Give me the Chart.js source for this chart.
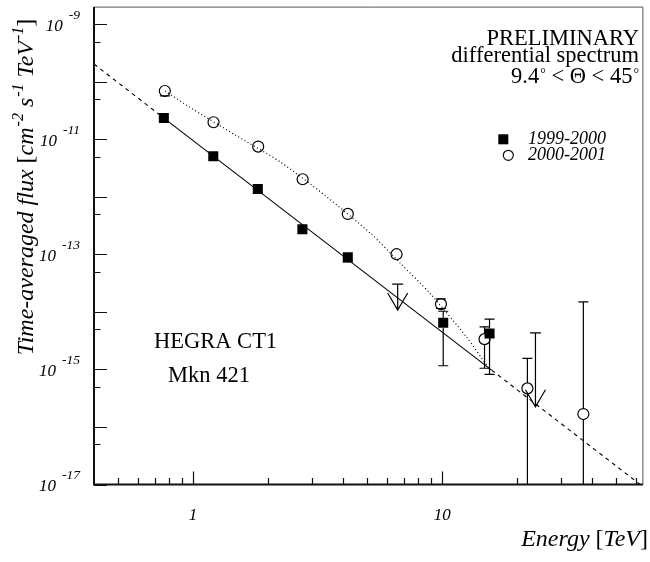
<!DOCTYPE html>
<html><head><meta charset="utf-8">
<script src="https://cdn.jsdelivr.net/npm/chart.js@4/dist/chart.umd.min.js"></script>
<style>html,body{margin:0;padding:0;background:#fff}canvas{display:block}</style>
</head><body>
<canvas id="c" width="650" height="562"></canvas>
<script>
// ---------- data ----------
// 1999-2000 (filled squares)
const energy9900 = [0.763, 1.205, 1.819, 2.747, 4.18, 10.1, 15.5];
const flux9900   = [2.35e-11, 5.09e-12, 1.38e-12, 2.75e-13, 8.95e-14, 6.47e-15, 4.24e-15];
const errLo9900  = [null, null, null, null, 7.43e-14, 1.16e-15, 8.2e-16];
const errHi9900  = [null, null, null, null, null, 1.03e-14, 7.5e-15];
// 1999-2000 upper limits
const ulEnergy9900   = [6.63, 23.7];
const ulFlux9900     = [3.04e-14, 4.33e-15];
const ulArrowEnd9900 = [1.08e-14, 2.25e-16];

// 2000-2001 (open circles)
const energy0001 = [0.77, 1.208, 1.825, 2.753, 4.18, 6.56, 9.89, 14.8, 22.0, 36.9];
const flux0001   = [6.95e-11, 1.99e-11, 7.51e-12, 2.03e-12, 5.07e-13, 1.01e-13, 1.37e-14, 3.37e-15, 4.69e-16, 1.68e-16];
const errLo0001  = [5.73e-11, null, null, null, null, null, 1.15e-14, 1.05e-15, 1e-19, 1e-19];
const errHi0001  = [null, null, null, null, null, null, 1.69e-14, 5.52e-15, 1.56e-15, 1.50e-14];

// power-law fit to 1999-2000 (solid inside fit range, dashed extrapolation)
const fitEnergy = [0.4, 0.763, 15.8, 64];
const fitFlux   = [2.05e-10, 2.35e-11, 9.75e-16, 9.2e-18];
// curved fit to 2000-2001 (dotted)
const curveEnergy0001 = [0.772, 0.967, 1.483, 2.239, 3.377, 5.168, 6.79, 8.92, 12.51, 15.6];
const curveFlux0001   = [6.95e-11, 3.66e-11, 1.18e-11, 4.06e-12, 1.07e-12, 2.31e-13, 7.05e-14, 2.12e-14, 3.70e-15, 9.75e-16];

// axes
const xMin = 0.4, xMax = 64, yMin = 1e-17, yMax = 2e-9;
const xTickValues = [0.5,0.6,0.7,0.8,0.9,1,2,3,4,5,6,7,8,9,10,20,30,40,50,60];
const xMajorValues = [1, 10];
const xLabelValues = [1, 10];
const yMajorExponents = [-17,-16,-15,-14,-13,-12,-11,-10,-9];
const yLabelExponents = [-17,-15,-13,-11,-9];

const FONT = '"Liberation Serif", "DejaVu Serif", serif';

function pts(xs, ys){ return xs.map((x,i)=>({x:x, y:ys[i]})); }

function richWidth(ctx, parts){ let w=0; for(const p of parts){ ctx.font=p.f; w += ctx.measureText(p.t).width + (p.dx||0);} return w; }
function drawRich(ctx, parts, x, y){ for(const p of parts){ ctx.font=p.f; x += (p.dx||0); ctx.fillText(p.t, x, y-(p.r||0)); x += ctx.measureText(p.t).width; } }

const hegraPlugin = {
  id: 'hegra',
  afterDatasetsDraw(chart){
    const ctx = chart.ctx, xs = chart.scales.x, ys = chart.scales.y, a = chart.chartArea;
    const X = v => xs.getPixelForValue(v), Y = v => ys.getPixelForValue(v);
    ctx.save();
    ctx.strokeStyle = '#000'; ctx.fillStyle = '#000';
    // ---- error bars and upper limits (clipped) ----
    ctx.save();
    ctx.beginPath(); ctx.rect(a.left, a.top, a.right-a.left, a.bottom-a.top); ctx.clip();
    ctx.lineWidth = 1.2;
    function errs(E, F, lo, hi, gap){
      for(let i=0;i<E.length;i++){
        const px = X(E[i]), py = Y(F[i]);
        ctx.beginPath();
        if(hi[i]!=null){ const yh=Y(hi[i]); ctx.moveTo(px, py-gap); ctx.lineTo(px, yh); ctx.moveTo(px-5, yh); ctx.lineTo(px+5, yh); }
        if(lo[i]!=null){ const yl=Y(lo[i]); ctx.moveTo(px, py+gap); ctx.lineTo(px, yl); ctx.moveTo(px-5, yl); ctx.lineTo(px+5, yl); }
        ctx.stroke();
      }
    }
    errs(energy9900, flux9900, errLo9900, errHi9900, 5);
    errs(energy0001, flux0001, errLo0001, errHi0001, 5.5);
    for(let i=0;i<ulEnergy9900.length;i++){
      const px = X(ulEnergy9900[i]), yc = Y(ulFlux9900[i]), yt = Y(ulArrowEnd9900[i]);
      ctx.beginPath();
      ctx.moveTo(px-5.5, yc); ctx.lineTo(px+5.5, yc);
      ctx.moveTo(px, yc); ctx.lineTo(px, yt);
      ctx.moveTo(px-10, yt-17); ctx.lineTo(px, yt); ctx.lineTo(px+10, yt-17);
      ctx.stroke();
    }
    ctx.restore();

    // ---- frame ----
    ctx.lineWidth = 1; ctx.strokeStyle = '#555';
    ctx.beginPath(); ctx.moveTo(a.left, a.top); ctx.lineTo(a.right, a.top); ctx.lineTo(a.right, a.bottom); ctx.stroke();
    ctx.lineWidth = 2; ctx.strokeStyle = '#111';
    ctx.beginPath(); ctx.moveTo(a.left, a.top); ctx.lineTo(a.left, a.bottom); ctx.lineTo(a.right, a.bottom); ctx.stroke();

    // ---- ticks ----
    ctx.lineWidth = 1.2; ctx.strokeStyle = '#111';
    ctx.beginPath();
    for(const v of xTickValues){
      const px = Math.round(X(v))+0.5; const L = xMajorValues.includes(v) ? 13 : 6.5;
      ctx.moveTo(px, a.bottom); ctx.lineTo(px, a.bottom-L);
    }
    for(const e of yMajorExponents){
      const py = Math.round(Y(Math.pow(10,e)))+0.5;
      ctx.moveTo(a.left, py); ctx.lineTo(a.left+13, py);
      const pm = Math.round(Y(5*Math.pow(10,e)))+0.5;
      if(pm > a.top){ ctx.moveTo(a.left, pm); ctx.lineTo(a.left+6.5, pm); }
    }
    ctx.stroke();

    // ---- tick labels ----
    ctx.textAlign = 'left'; ctx.textBaseline = 'alphabetic';
    for(const e of yLabelExponents){
      const py = Y(Math.pow(10,e));
      const parts = [{t:'10', f:'italic 17px '+FONT}, {t:String(e), f:'italic 13.5px '+FONT, r:12, dx:6}];
      const w = richWidth(ctx, parts);
      drawRich(ctx, parts, 80 - w, py + 6.5);
    }
    ctx.textAlign = 'center'; ctx.font = 'italic 17px '+FONT;
    for(const v of xLabelValues){ ctx.fillText(String(v), X(v), 520); }

    // ---- axis titles ----
    ctx.textAlign = 'left';
    const xt = [{t:'Energy ', f:'italic 24px '+FONT}, {t:'[', f:'24px '+FONT}, {t:'TeV', f:'italic 24px '+FONT}, {t:']', f:'24px '+FONT}];
    drawRich(ctx, xt, 648 - richWidth(ctx, xt), 546);
    const yt = [{t:'Time-averaged flux ', f:'italic 24px '+FONT}, {t:'[', f:'24px '+FONT}, {t:'cm', f:'italic 24px '+FONT},
      {t:'-2', f:'italic 16px '+FONT, r:10, dx:1}, {t:' s', f:'italic 24px '+FONT}, {t:'-1', f:'italic 16px '+FONT, r:10, dx:1},
      {t:' TeV', f:'italic 24px '+FONT}, {t:'-1', f:'italic 16px '+FONT, r:10, dx:1}, {t:']', f:'24px '+FONT}];
    const yw = richWidth(ctx, yt);
    ctx.save(); ctx.translate(33, 187); ctx.rotate(-Math.PI/2);
    drawRich(ctx, yt, -yw/2, 0);
    ctx.restore();

    // ---- annotations ----
    ctx.textAlign = 'right'; ctx.font = '22.5px '+FONT;
    ctx.fillText('PRELIMINARY', 639, 44.5);
    ctx.fillText('differential spectrum', 639, 61.5);
    ctx.textAlign = 'left';
    const th = [{t:'9.4', f:'22.5px '+FONT}, {t:'\u00B0', f:'14px '+FONT, r:5, dx:1}, {t:' < \u0398 < 45', f:'22.5px '+FONT},
      {t:'\u00B0', f:'14px '+FONT, r:5, dx:1}];
    drawRich(ctx, th, 639 - richWidth(ctx, th), 83);
    ctx.font = '22.5px '+FONT;
    ctx.fillText('HEGRA CT1', 154, 348);
    ctx.fillText('Mkn 421', 168, 381.5);

    // ---- legend ----
    ctx.fillStyle = '#000';
    ctx.fillRect(503.3-5, 139.3-5, 10, 10);
    ctx.lineWidth = 1.2; ctx.beginPath(); ctx.arc(508.3, 155.3, 5, 0, Math.PI*2); ctx.stroke();
    ctx.font = 'italic 18px '+FONT; ctx.textBaseline = 'middle';
    ctx.fillText('1999-2000', 528, 139.5);
    ctx.fillText('2000-2001', 528, 155.5);
    ctx.restore();
  }
};

new Chart(document.getElementById('c'), {
  type: 'scatter',
  data: { datasets: [
    { label: '1999-2000', data: pts(energy9900, flux9900), pointStyle: 'rect', pointRadius: 7.1,
      backgroundColor: '#000', borderColor: '#000', borderWidth: 0, order: 1 },
    { label: '2000-2001', data: pts(energy0001, flux0001), pointStyle: 'circle', pointRadius: 5.5,
      backgroundColor: 'rgba(0,0,0,0)', borderColor: '#000', borderWidth: 1.2, order: 1 },
    { type: 'line', label: 'fit 1999-2000', data: pts(fitEnergy, fitFlux), showLine: true, pointRadius: 0,
      borderColor: '#000', borderWidth: 1.1, fill: false, order: 2,
      segment: { borderDash: c => (c.p0DataIndex === 1 ? [] : [4, 4]) } },
    { type: 'line', label: 'fit 2000-2001', data: pts(curveEnergy0001, curveFlux0001), showLine: true, pointRadius: 0,
      borderColor: '#000', borderWidth: 1.2, borderDash: [1, 2.6], tension: 0.25, fill: false, order: 2 }
  ]},
  options: {
    responsive: false, animation: false, devicePixelRatio: 1,
    layout: { padding: { left: 94, right: 2, top: 6.5, bottom: 77.5 } },
    plugins: { legend: { display: false }, tooltip: { enabled: false } },
    scales: {
      x: { type: 'logarithmic', min: xMin, max: xMax, grid: { display: false }, border: { display: false },
           ticks: { display: false }, afterFit: s => { s.height = 0; } },
      y: { type: 'logarithmic', min: yMin, max: yMax, grid: { display: false }, border: { display: false },
           ticks: { display: false }, afterFit: s => { s.width = 0; } }
    }
  },
  plugins: [hegraPlugin]
});
</script>
</body></html>
